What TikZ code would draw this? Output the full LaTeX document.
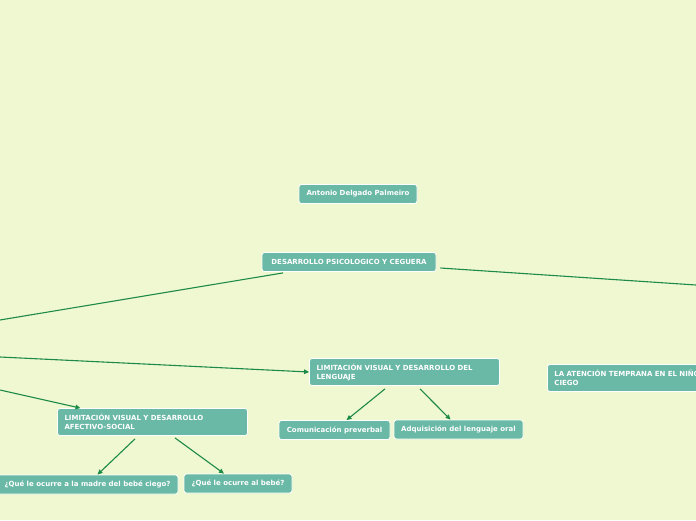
\documentclass[tikz,border=0pt]{standalone}
\usepackage{fontspec}
\usepackage{tikz}
\usetikzlibrary{arrows.meta,positioning,calc}
\newfontfamily\mapfont{DejaVu Sans}
\definecolor{canvas}{HTML}{EFF8D0}
\definecolor{topicfill}{HTML}{6AB8A6}
\definecolor{linkgreen}{HTML}{1E8A48}
\tikzset{
  topic/.style={draw=white,fill=topicfill,line width=0.8pt,rounded corners=2.5pt,
                text=white,font=\mapfont\bfseries\fontsize{7}{9}\selectfont,
                inner xsep=7pt,inner ysep=0pt,minimum height=19pt},
  widetopic/.style={topic,text width=176pt,align=left,minimum height=27pt},
  link/.style={draw=linkgreen,line width=1.1pt},
  arrowlink/.style={link,-{Triangle[length=5pt,width=4.5pt]}}
}
\begin{document}
\begin{tikzpicture}[x=1pt,y=-1pt]
  \fill[canvas] (0,0) rectangle (696,520);
  \path[use as bounding box] (0,0) rectangle (696,520);
  \clip (0,0) rectangle (696,520);
  % free ends of the links that leave the page
  \coordinate (westA) at (0,320);
  \coordinate (westB) at (0,357);
  \coordinate (westC) at (0,390);
  \coordinate (eastA) at (696,285);
  % topics
  \node[topic,minimum width=118pt] (author) at (358,194) {Antonio Delgado Palmeiro};
  \node[topic,minimum width=174pt] (psico) at (349,262) {DESARROLLO PSICOLOGICO Y CEGUERA};
  \node[widetopic] (lenguaje) at (404.5,372)
    {LIMITACIÓN VISUAL Y DESARROLLO DEL LENGUAJE};
  \node[topic,minimum width=111pt] (preverbal) at (334.5,430) {Comunicación preverbal};
  \node[topic,minimum width=129pt] (oral) at (458.5,429.5) {Adquisición del lenguaje oral};
  \node[widetopic] (afectivo) at (152.5,422)
    {LIMITACIÓN VISUAL Y DESARROLLO AFECTIVO-SOCIAL};
  \node[topic,minimum width=181pt] (madre) at (87.5,484.5) {¿Qué le ocurre a la madre del bebé ciego?};
  \node[topic,minimum width=108pt] (bebe) at (238,483.5) {¿Qué le ocurre al bebé?};
  \node[widetopic,text width=160pt,anchor=west] (temprana) at (547,378)
    {LA ATENCIÓN TEMPRANA EN EL NIÑO CIEGO};
  % links
  \draw[link] ([xshift=-66pt,yshift=-1pt]psico.south) -- (westA);
  \draw[link] ([xshift=4pt,yshift=-6pt]psico.east) -- (eastA);
  \draw[arrowlink] (westB) -- (lenguaje.west);
  \draw[arrowlink] (westC) -- ([xshift=-72pt]afectivo.north);
  \draw[arrowlink] ([xshift=-19.5pt,yshift=-3pt]lenguaje.south) -- ([xshift=12pt]preverbal.north);
  \draw[arrowlink] ([xshift=15.5pt,yshift=-3pt]lenguaje.south) -- ([xshift=-8pt]oral.north);
  \draw[arrowlink] ([xshift=-17.5pt,yshift=-3pt]afectivo.south) -- ([xshift=10pt]madre.north);
  \draw[arrowlink] ([xshift=22.5pt,yshift=-2pt]afectivo.south) -- ([xshift=-14pt]bebe.north);
\end{tikzpicture}
\end{document}
